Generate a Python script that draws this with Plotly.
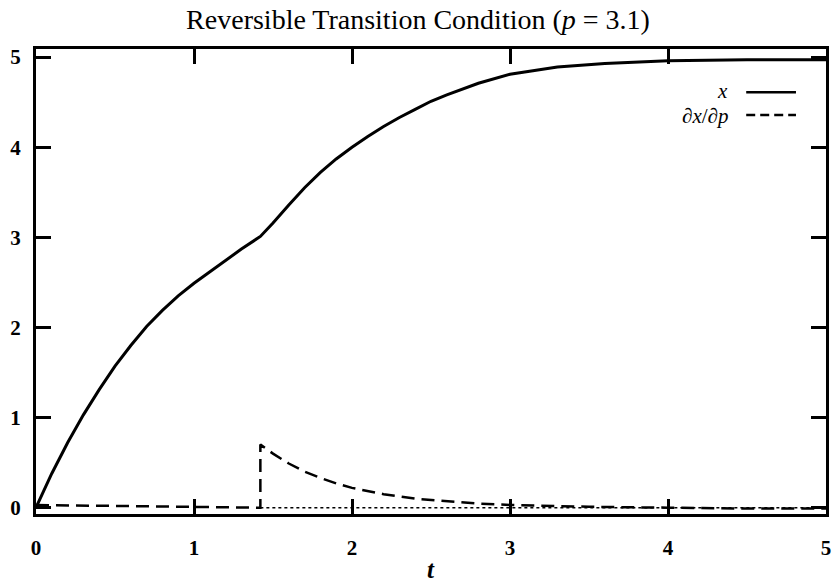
import plotly.graph_objects as go

# x(t) solution
t_x = [0, 0.1, 0.2, 0.3, 0.4, 0.5, 0.6, 0.7, 0.8, 0.9, 1.0, 1.1, 1.2, 1.3, 1.42,
       1.5, 1.6, 1.7, 1.8, 1.9, 2.0, 2.1, 2.2, 2.3, 2.4, 2.5, 2.6, 2.8, 3.0, 3.3, 3.6, 4.0, 4.5, 5.0]
x_vals = [0, 0.38, 0.72, 1.03, 1.31, 1.57, 1.80, 2.01, 2.19, 2.35, 2.49, 2.62, 2.75, 2.87, 3.01,
          3.16, 3.36, 3.55, 3.72, 3.87, 4.00, 4.12, 4.23, 4.33, 4.42, 4.51, 4.58, 4.71, 4.81, 4.89, 4.93, 4.96, 4.97, 4.97]

# dx/dp sensitivity
t_s = [0, 0.5, 1.0, 1.42, 1.42, 1.5, 1.6, 1.7, 1.8, 1.9, 2.0, 2.2, 2.4, 2.6, 2.8, 3.0, 3.5, 4.0, 4.5, 5.0]
s_vals = [0.03, 0.02, 0.01, 0.0, 0.70, 0.60, 0.49, 0.40, 0.33, 0.27, 0.22, 0.15, 0.10, 0.07, 0.045,
          0.03, 0.01, 0.0, -0.01, -0.01]

# dotted zero reference after transition
t_d = [1.42, 5.0]
d_vals = [0.0, 0.0]

x_ticks = [0, 1, 2, 3, 4, 5]
y_ticks = [0, 1, 2, 3, 4, 5]

SERIF = "Liberation Serif, DejaVu Serif, serif"

fig = go.Figure()
fig.add_trace(go.Scatter(x=t_d, y=d_vals, mode="lines",
                         line=dict(color="black", width=1.5, dash="dot"), showlegend=False))
fig.add_trace(go.Scatter(x=t_s, y=s_vals, mode="lines",
                         line=dict(color="black", width=2.5, dash="13px,7px"), showlegend=False))
fig.add_trace(go.Scatter(x=t_x, y=x_vals, mode="lines",
                         line=dict(color="black", width=3), showlegend=False))

axis_common = dict(showgrid=False, zeroline=False, showline=True, linewidth=3, linecolor="black",
                   mirror="ticks", ticks="inside", ticklen=15, tickwidth=3, tickcolor="black",
                   tickfont=dict(family=SERIF, size=21, color="black", weight="bold"))

fig.update_xaxes(range=[0, 5], tickvals=x_ticks, ticktext=[str(v) for v in x_ticks],
                 ticklabelstandoff=13, **axis_common)
fig.update_yaxes(range=[-0.07, 5.09], tickvals=y_ticks, ticktext=[str(v) for v in y_ticks],
                 ticklabelstandoff=8, **axis_common)

fig.update_layout(
    width=836, height=582,
    margin=dict(l=36, r=5, t=49, b=68),
    paper_bgcolor="white", plot_bgcolor="white",
    title=dict(text="Reversible Transition Condition (<i>p</i> = 3.1)", x=0.5, xanchor="center",
               y=1 - 19 / 582, yanchor="middle", font=dict(family=SERIF, size=28, color="black")),
    annotations=[
        dict(text="<b><i>t</i></b>", xref="paper", yref="paper", x=0.5, y=-0.12, showarrow=False,
             xanchor="center", yanchor="middle", font=dict(family=SERIF, size=25, color="black")),
        dict(text="<i>x</i>", xref="paper", yref="paper", x=0.878, y=0.909, showarrow=False,
             xanchor="right", yanchor="middle", font=dict(family=SERIF, size=21, color="black")),
        dict(text="<i>∂x</i>/<i>∂p</i>", xref="paper", yref="paper", x=0.878, y=0.856, showarrow=False,
             xanchor="right", yanchor="middle", font=dict(family=SERIF, size=21, color="black")),
    ],
    shapes=[
        dict(type="line", xref="paper", yref="paper", x0=0.899, x1=0.962, y0=0.907, y1=0.907,
             line=dict(color="black", width=2.5)),
        dict(type="line", xref="paper", yref="paper", x0=0.899, x1=0.962, y0=0.858, y1=0.858,
             line=dict(color="black", width=2.5, dash="9px,5px")),
    ],
)

fig.write_html("out.html")
